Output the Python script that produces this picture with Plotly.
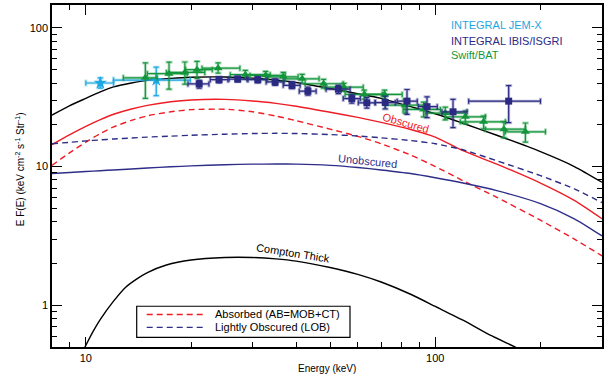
import numpy as np
import plotly.graph_objects as go

# ---------------- model curves ----------------
E_model = [8, 9, 10, 11, 12, 13.5, 15, 17.5, 20, 25, 30, 35, 40, 50, 60, 70, 85, 100, 120, 150, 200, 250, 300]
total = [23.5, 27.5, 31.0, 34.5, 37.5, 40.0, 41.8, 43.2, 44.0, 44.2, 43.4, 42.0, 40.3, 36.5, 33.5, 31.0,
         27.0, 24.0, 20.5, 16.8, 12.8, 10.0, 7.7]
obscured = [14.4, 17.0, 19.5, 21.8, 23.8, 26.0, 27.6, 29.3, 30.2, 30.5, 29.7, 28.5, 27.2, 24.6, 22.6, 20.8,
            18.5, 16.3, 13.0, 10.4, 7.6, 5.7, 4.2]
absorbed = [10.2, 12.6, 15.0, 17.3, 19.3, 21.5, 23.2, 24.8, 25.7, 25.9, 24.8, 23.1, 21.4, 18.6, 16.5, 14.6,
            12.1, 10.0, 7.9, 6.0, 4.1, 3.0, 2.27]
lightly_obscured = [14.6, 14.95, 15.3, 15.55, 15.8, 16.05, 16.3, 16.55, 16.8, 17.1, 17.3, 17.35, 17.3, 17.0,
                    16.6, 16.1, 15.4, 14.6, 13.2, 11.0, 8.6, 6.9, 5.5]
unobscured = [8.9, 9.05, 9.2, 9.33, 9.45, 9.6, 9.75, 9.95, 10.1, 10.3, 10.4, 10.42, 10.4, 10.2, 9.85, 9.45,
              8.9, 8.3, 7.6, 6.7, 5.4, 4.2, 3.16]

E_ct = [9.9, 10.5, 11, 12, 13, 14, 15, 17, 20, 25, 30, 35, 40, 50, 60, 70, 85, 100, 120, 140, 172]
compton_thick = [0.49, 0.65, 0.79, 1.07, 1.35, 1.55, 1.72, 1.95, 2.12, 2.21, 2.21, 2.16, 2.08, 1.87, 1.67,
                 1.47, 1.2, 0.98, 0.78, 0.63, 0.49]

# ---------------- data points ----------------
jemx_E = [11.0, 15.9]
jemx_Elo = [10.0, 12.0]
jemx_Ehi = [12.0, 19.9]
jemx_F = [40.0, 42.0]
jemx_Flo = [36.8, 32.4]
jemx_Fhi = [43.5, 52.0]

isgri_E = [21.1, 24.05, 27.2, 31.05, 34.8, 38.9, 43.2, 52.8, 57.7, 63.7, 71.9, 83.0, 94.7, 112.4, 162.2]
isgri_Elo = [19.6, 22.7, 25.7, 29.1, 32.8, 36.7, 40.8, 48.7, 54.5, 60.2, 67.3, 77.8, 89.4, 104.5, 124.6]
isgri_Ehi = [22.5, 25.5, 28.9, 33.0, 36.9, 41.05, 45.6, 57.05, 61.0, 67.3, 76.8, 88.8, 101.3, 123.3, 200.0]
isgri_F = [39.4, 42.3, 42.7, 42.3, 40.7, 38.5, 34.9, 36.1, 30.9, 28.8, 28.9, 29.6, 27.0, 24.8, 29.6]
isgri_Flo = [36.7, 40.1, 40.8, 40.1, 38.5, 36.4, 32.7, 33.5, 28.6, 26.4, 26.0, 23.8, 22.5, 19.1, 20.7]
isgri_Fhi = [41.8, 44.3, 44.7, 44.3, 42.9, 40.8, 37.3, 38.5, 33.2, 31.4, 32.1, 35.9, 31.8, 30.5, 38.3]

bat_E = [14.8, 17.3, 19.2, 20.8, 23.9, 28.6, 32.7, 36.7, 41.6, 47.9, 54.8, 62.6, 71.6, 82.0, 92.6,
         106.8, 121.9, 137.5, 157.2, 181.1]
bat_Elo = [12.8, 15.0, 17.0, 19.3, 21.5, 25.9, 29.5, 33.2, 37.2, 42.4, 48.4, 55.2, 63.0, 71.9, 80.9,
           93.6, 106.8, 117.9, 139.1, 158.7]
bat_Ehi = [16.0, 19.5, 21.9, 23.0, 27.6, 33.7, 37.2, 40.5, 46.5, 54.5, 62.2, 70.5, 80.4, 93.6, 103.4,
           121.9, 139.1, 158.7, 181.1, 206.7]
bat_F = [43.6, 46.7, 47.7, 49.9, 51.2, 45.9, 45.4, 44.3, 42.9, 39.5, 37.3, 33.1, 33.1, 27.7, 25.8,
         24.3, 22.8, 21.0, 18.6, 17.8]
bat_Flo = [31.0, 36.1, 39.2, 43.2, 47.2, 42.5, 42.5, 41.1, 39.8, 36.7, 34.9, 30.6, 30.6, 24.3, 22.8,
           21.7, 20.3, 18.7, 16.1, 15.0]
bat_Fhi = [55.8, 56.5, 56.7, 57.2, 55.8, 49.3, 48.5, 47.7, 46.2, 42.5, 39.8, 35.5, 35.5, 30.6, 29.1,
           26.8, 25.1, 23.1, 21.0, 20.6]

# tick labels
x_ticks = [10, 100]
y_ticks = [1, 10, 100]

RED = "#ee1c24"
NAVY = "#2e2d88"
JEMX_C = "#1ea7e1"
ISGRI_C = "#2b2a83"
BAT_C = "#13963b"
FONT = "Liberation Sans, Arial, Helvetica, sans-serif"

fig = go.Figure()


def add_curve(x, y, color, dash):
    fig.add_trace(go.Scatter(x=x, y=y, mode="lines",
                             line=dict(color=color, width=1.4, dash=dash, shape="spline", smoothing=0.6),
                             showlegend=False, hoverinfo="skip"))


add_curve(E_model, total, "black", "solid")
add_curve(E_model, obscured, RED, "solid")
add_curve(E_model, absorbed, RED, "6px,4px")
add_curve(E_model, lightly_obscured, NAVY, "6px,4px")
add_curve(E_model, unobscured, NAVY, "solid")
add_curve(E_ct, compton_thick, "black", "solid")


def add_data(E, Elo, Ehi, F, Flo, Fhi, color, halo, symbol, size):
    E, Elo, Ehi = np.array(E), np.array(Elo), np.array(Ehi)
    F, Flo, Fhi = np.array(F), np.array(Flo), np.array(Fhi)
    ex = dict(type="data", symmetric=False, array=Ehi - E, arrayminus=E - Elo)
    ey = dict(type="data", symmetric=False, array=Fhi - F, arrayminus=F - Flo)
    # soft halo under the error bars
    fig.add_trace(go.Scatter(x=E, y=F, mode="markers", marker=dict(size=1, color="rgba(0,0,0,0)"),
                             error_x=dict(**ex, color=halo, thickness=3, width=3.5),
                             error_y=dict(**ey, color=halo, thickness=3, width=3.5),
                             showlegend=False, hoverinfo="skip"))
    fig.add_trace(go.Scatter(x=E, y=F, mode="markers",
                             marker=dict(symbol=symbol, size=size, color=color, line=dict(width=0)),
                             error_x=dict(**ex, color=color, thickness=1.2, width=2.5),
                             error_y=dict(**ey, color=color, thickness=1.2, width=2.5),
                             showlegend=False, hoverinfo="skip"))


add_data(jemx_E, jemx_Elo, jemx_Ehi, jemx_F, jemx_Flo, jemx_Fhi, JEMX_C, "rgba(30,167,225,0.3)", "star", 10)
add_data(bat_E, bat_Elo, bat_Ehi, bat_F, bat_Flo, bat_Fhi, BAT_C, "rgba(19,150,59,0.3)", "triangle-up", 8)
add_data(isgri_E, isgri_Elo, isgri_Ehi, isgri_F, isgri_Flo, isgri_Fhi, ISGRI_C, "rgba(43,42,131,0.3)", "square", 7)

axis_common = dict(type="log", showline=True, linecolor="black", linewidth=1.5, mirror="allticks",
                   ticks="inside", ticklen=10, tickwidth=1.2, tickcolor="black", showgrid=False,
                   zeroline=False, tickfont=dict(family=FONT, size=11, color="black"))

fig.update_xaxes(**axis_common, range=[np.log10(8), np.log10(300)], tickmode="array",
                 tickvals=x_ticks, ticktext=[str(v) for v in x_ticks],
                 minor=dict(tickmode="array", tickvals=[9, 20, 30, 40, 50, 60, 70, 80, 90, 200, 300],
                            ticks="inside", ticklen=5, tickwidth=1.2, tickcolor="black", showgrid=False))
fig.update_yaxes(**axis_common, range=[np.log10(0.5), np.log10(146)], tickmode="array",
                 tickvals=y_ticks, ticktext=[str(v) for v in y_ticks],
                 minor=dict(tickmode="array",
                            tickvals=[0.6, 0.7, 0.8, 0.9, 2, 3, 4, 5, 6, 7, 8, 9, 20, 30, 40, 50, 60, 70, 80, 90],
                            ticks="inside", ticklen=5, tickwidth=1.2, tickcolor="black", showgrid=False))

ann = []
# curve labels
ann.append(dict(x=np.log10(82.6), y=np.log10(20.6), text="Obscured", textangle=16, showarrow=False,
                font=dict(family=FONT, size=11, color=RED)))
ann.append(dict(x=np.log10(63.8), y=np.log10(10.9), text="Unobscured", textangle=6, showarrow=False,
                font=dict(family=FONT, size=11, color=NAVY)))
ann.append(dict(x=np.log10(39.2), y=np.log10(2.4), text="Compton Thick", textangle=9, showarrow=False,
                font=dict(family=FONT, size=11, color="black")))
# instrument labels
for txt, yv, col in [("INTEGRAL JEM-X", 104.5, JEMX_C), ("INTEGRAL IBIS/ISGRI", 80.7, ISGRI_C),
                     ("Swift/BAT", 64.1, BAT_C)]:
    ann.append(dict(x=np.log10(109.6), y=np.log10(yv), text=txt, showarrow=False, xanchor="left",
                    yanchor="middle", font=dict(family=FONT, size=11, color=col)))
# axis titles
ann.append(dict(xref="paper", yref="paper", x=0.5, y=-0.064, text="Energy (keV)", showarrow=False,
                yanchor="middle", font=dict(family=FONT, size=10, color="black")))
ann.append(dict(xref="paper", yref="paper", x=-0.058, y=0.52, textangle=-90,
                text="E F(E) (keV cm<sup>-2</sup> s<sup>-1</sup> Str<sup>-1</sup>)", showarrow=False,
                xanchor="center", yanchor="middle", font=dict(family=FONT, size=10, color="black")))
# legend box texts
ann.append(dict(xref="paper", yref="paper", x=0.2922, y=0.0951, text="Absorbed (AB=MOB+CT)", showarrow=False,
                xanchor="left", yanchor="middle", font=dict(family=FONT, size=11, color="black")))
ann.append(dict(xref="paper", yref="paper", x=0.2922, y=0.0573, text="Lightly Obscured (LOB)", showarrow=False,
                xanchor="left", yanchor="middle", font=dict(family=FONT, size=11, color="black")))

shapes = [
    dict(type="rect", xref="paper", yref="paper", x0=0.154, x1=0.5418, y0=0.0282, y1=0.1192,
         line=dict(color="black", width=1.2), fillcolor="white", layer="above"),
    dict(type="line", xref="paper", yref="paper", x0=0.1722, x1=0.2745, y0=0.0951, y1=0.0951,
         line=dict(color=RED, width=1.3, dash="6px,4px"), layer="above"),
    dict(type="line", xref="paper", yref="paper", x0=0.1722, x1=0.2745, y0=0.0573, y1=0.0573,
         line=dict(color=NAVY, width=1.3, dash="6px,4px"), layer="above"),
]

fig.update_layout(width=613, height=381, margin=dict(l=52, r=11, t=3, b=34),
                  paper_bgcolor="white", plot_bgcolor="white", showlegend=False,
                  annotations=ann, shapes=shapes, font=dict(family=FONT, size=11, color="black"))

fig.write_html("out.html")
